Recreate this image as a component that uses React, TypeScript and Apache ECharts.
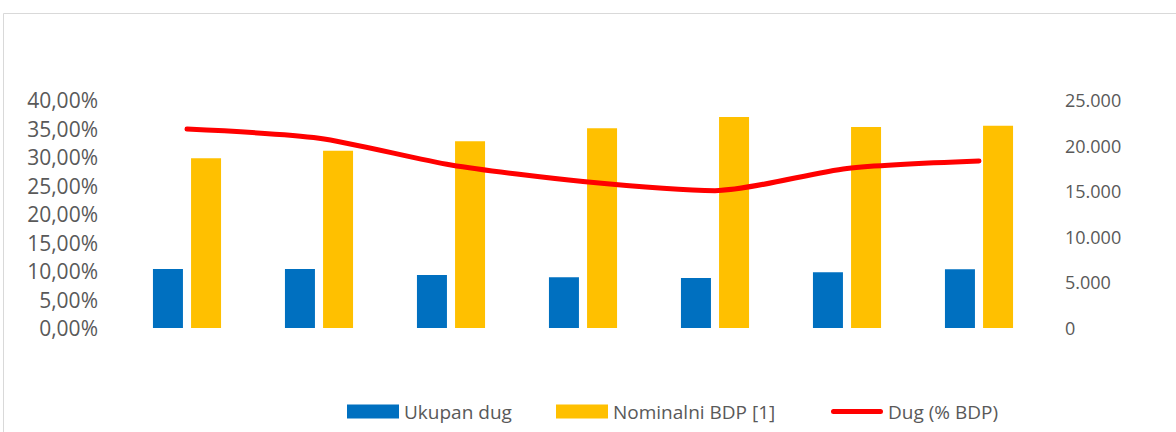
import React, { useEffect, useRef } from "react";
import * as echarts from "echarts";

const categories = ["1", "2", "3", "4", "5", "6", "7"];
const ukupanDug = [6470, 6470, 5810, 5560, 5480, 6110, 6440];
const nominalniBDP = [18600, 19440, 20470, 21890, 23140, 22040, 22180];
const dugPctBDP = [34.9, 33.3, 28.6, 25.7, 24.1, 28.0, 29.3];

const FONT = "'Open Sans', sans-serif";
const GREY = "#595959";
const LINE_ICON =
  "path://M2.5,0 H49.5 A2.5,2.5 0 0 1 49.5,5 H2.5 A2.5,2.5 0 0 1 2.5,0 Z";

const legendBase = {
  top: 402,
  padding: 0,
  itemWidth: 52,
  itemHeight: 14,
  itemGap: 0,
  textStyle: { color: GREY, fontSize: 19, fontFamily: FONT },
};

export default function App() {
  const ref = useRef<HTMLDivElement>(null);
  useEffect(() => {
    document.body.style.margin = "0";
    const chart = echarts.init(ref.current!, null, { renderer: "svg" });
    chart.setOption({
      animation: false,
      backgroundColor: "#ffffff",
      textStyle: { fontFamily: FONT },
      graphic: [
        {
          type: "rect",
          shape: { x: 3.5, y: 13.5, width: 1300, height: 600 },
          style: { fill: "none", stroke: "#d9d9d9", lineWidth: 1 },
          silent: true,
        },
      ],
      grid: { left: 121, right: 131, top: 100, bottom: 104 },
      legend: [
        { ...legendBase, left: 347, data: [{ name: "Ukupan dug", icon: "rect" }] },
        { ...legendBase, left: 556, data: [{ name: "Nominalni BDP [1]", icon: "rect" }] },
        {
          ...legendBase,
          left: 831,
          symbolKeepAspect: true,
          data: [{ name: "Dug (% BDP)", icon: LINE_ICON }],
        },
      ],
      xAxis: {
        type: "category",
        data: categories,
        axisLine: { show: false },
        axisTick: { show: false },
        axisLabel: { show: false },
        splitLine: { show: false },
      },
      yAxis: [
        {
          type: "value",
          position: "left",
          min: 0,
          max: 40,
          interval: 5,
          splitLine: { show: false },
          axisLine: { show: false },
          axisTick: { show: false },
          axisLabel: {
            color: GREY,
            fontSize: 21,
            margin: 23,
            fontFamily: FONT,
            formatter: (v: number) => v.toFixed(2).replace(".", ",") + "%",
          },
        },
        {
          type: "value",
          position: "right",
          min: 0,
          max: 25000,
          interval: 5000,
          splitLine: { show: false },
          axisLine: { show: false },
          axisTick: { show: false },
          axisLabel: {
            color: GREY,
            fontSize: 18,
            margin: 20,
            fontFamily: FONT,
            formatter: (v: number) =>
              String(v).replace(/\B(?=(\d{3})+(?!\d))/g, "."),
          },
        },
      ],
      series: [
        {
          name: "Ukupan dug",
          type: "bar",
          yAxisIndex: 1,
          data: ukupanDug,
          barWidth: 30,
          barGap: "27%",
          itemStyle: { color: "#0070C0" },
        },
        {
          name: "Nominalni BDP [1]",
          type: "bar",
          yAxisIndex: 1,
          data: nominalniBDP,
          barWidth: 30,
          itemStyle: { color: "#FFC000" },
        },
        {
          name: "Dug (% BDP)",
          type: "line",
          yAxisIndex: 0,
          data: dugPctBDP,
          smooth: 0.25,
          symbol: "none",
          showSymbol: false,
          lineStyle: { color: "#FF0000", width: 5, cap: "round" },
          itemStyle: { color: "#FF0000" },
        },
      ],
    });
    return () => chart.dispose();
  }, []);
  return <div ref={ref} style={{ width: 1176, height: 432 }} />;
}
